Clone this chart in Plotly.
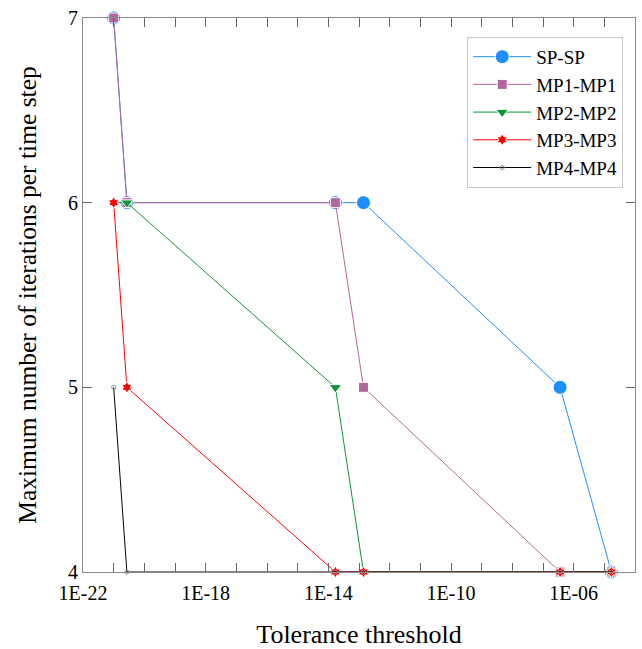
import plotly.graph_objects as go

tolerance = [1e-21, 2.7e-21, 1.7e-14, 1.4e-13, 3.6e-7, 1.7e-5]
sp_sp = [7, 6, 6, 6, 5, 4]
mp1_mp1 = [7, 6, 6, 5, 4, 4]
mp2_mp2 = [6, 6, 5, 4, 4, 4]
mp3_mp3 = [6, 5, 4, 4, 4, 4]
mp4_mp4 = [5, 4, 4, 4, 4, 4]

decades = list(range(-22, -3))
x_tickvals = [10.0 ** d for d in decades]
x_ticktext = [("1E-%02d" % (-d)) if (d + 22) % 4 == 0 else "" for d in decades]
y_tickvals = [4, 5, 6, 7]

FONT = "Liberation Serif"

series = [
    ("SP-SP", sp_sp, "#1e8fff", "circle", 14),
    ("MP1-MP1", mp1_mp1, "#b3669e", "square", 10),
    ("MP2-MP2", mp2_mp2, "#0c9636", "triangle-down", 11),
    ("MP3-MP3", mp3_mp3, "#ff0000", "hexagram", 9),
    ("MP4-MP4", mp4_mp4, "#000000", "circle-open", 4),
]

fig = go.Figure()
for name, vals, color, sym, size in series:
    if sym.endswith("open"):
        marker = dict(symbol=sym, size=size, color="#888888", line=dict(width=1, color="#888888"))
    else:
        marker = dict(symbol=sym, size=size, color=color, line=dict(width=1, color="white"))
    fig.add_trace(go.Scatter(
        x=tolerance, y=vals, name=name, mode="lines+markers",
        line=dict(color=color, width=1), marker=marker, cliponaxis=False,
    ))

axis_common = dict(
    showline=True, linecolor="#8a8a8a", linewidth=1, mirror="allticks",
    ticks="inside", ticklen=9, tickcolor="#666666", tickwidth=1,
    showgrid=False, zeroline=False, automargin=False,
    tickfont=dict(family=FONT, size=20, color="black"),
)

fig.update_xaxes(
    type="log", range=[-22, -4], tickmode="array", tickvals=x_tickvals, ticktext=x_ticktext,
    ticklabelstandoff=3,
    title=dict(text="Tolerance threshold", font=dict(family=FONT, size=26, color="black"), standoff=26),
    **axis_common,
)
fig.update_yaxes(
    range=[4, 7], tickmode="array", tickvals=y_tickvals, ticktext=[str(v) for v in y_tickvals],
    title=dict(text="Maximum number of iterations per time step", font=dict(family=FONT, size=25.5, color="black"), standoff=24),
    **axis_common,
)

fig.update_layout(
    width=642, height=649,
    margin=dict(l=83, r=7, t=18, b=77, autoexpand=False),
    paper_bgcolor="white", plot_bgcolor="white",
    font=dict(family=FONT, color="black"),
    legend=dict(
        x=0.696, y=0.966, xanchor="left", yanchor="top",
        bordercolor="#c8c8c8", borderwidth=1, bgcolor="white",
        font=dict(family=FONT, size=19, color="black"),
        tracegroupgap=0, itemwidth=58,
    ),
)

fig.write_html("out.html")
